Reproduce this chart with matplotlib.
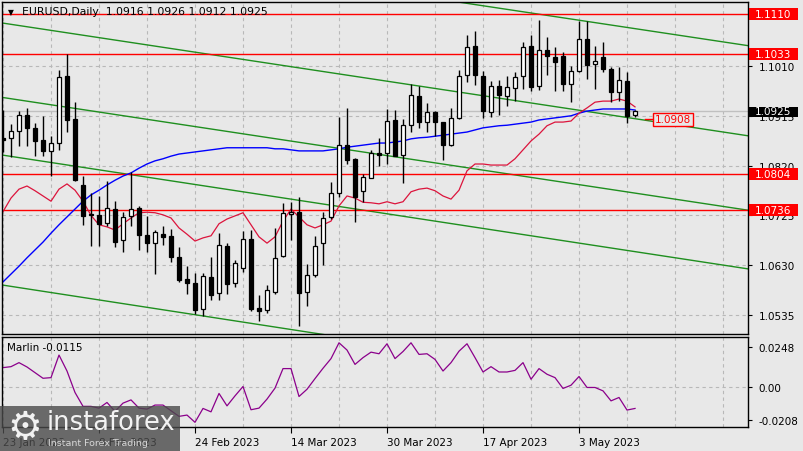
import matplotlib
matplotlib.use('Agg')
import matplotlib.pyplot as plt
from matplotlib.patches import Rectangle
import matplotlib.transforms as mtransforms

# ---------------- data ----------------
opens = [1.0873, 1.0873, 1.0886, 1.0917, 1.0892, 1.0869, 1.0848, 1.0863, 1.0991, 1.0909,
         1.0783, 1.0728, 1.0726, 1.0710, 1.0737, 1.0678, 1.0724, 1.0739, 1.0688, 1.0672,
         1.0689, 1.0686, 1.0646, 1.0604, 1.0596, 1.0546, 1.0607, 1.0577, 1.0667, 1.0596,
         1.0625, 1.0680, 1.0548, 1.0544, 1.0579, 1.0647, 1.0728, 1.0731, 1.0579, 1.0611,
         1.0672, 1.0722, 1.0768, 1.0859, 1.0833, 1.0772, 1.0796, 1.0844, 1.0844, 1.0907,
         1.0840, 1.0897, 1.0953, 1.0903, 1.0922, 1.0903, 1.0859, 1.0911, 1.0993, 1.1048,
         1.0991, 1.0922, 1.0972, 1.0953, 1.0968, 1.0991, 1.1048, 1.0972, 1.1041, 1.1027,
         1.1029, 1.0976, 1.1000, 1.1062, 1.1014, 1.1027, 1.1004, 1.0960, 1.0981, 1.0916]
highs = [1.0926, 1.0899, 1.0924, 1.0930, 1.0901, 1.0915, 1.0876, 1.1002, 1.1033, 1.0941,
         1.0800, 1.0768, 1.0762, 1.0791, 1.0752, 1.0731, 1.0808, 1.0743, 1.0724, 1.0697,
         1.0705, 1.0699, 1.0665, 1.0628, 1.0615, 1.0615, 1.0646, 1.0691, 1.0672, 1.0640,
         1.0695, 1.0697, 1.0573, 1.0592, 1.0701, 1.0749, 1.0751, 1.0760, 1.0632, 1.0686,
         1.0731, 1.0789, 1.0913, 1.0930, 1.0834, 1.0804, 1.0850, 1.0873, 1.0928, 1.0926,
         1.0909, 1.0976, 1.0972, 1.0939, 1.0924, 1.0903, 1.0930, 1.1002, 1.1069, 1.1077,
         1.1000, 1.0981, 1.0983, 1.0991, 1.0999, 1.1056, 1.1069, 1.1098, 1.1065, 1.1046,
         1.1037, 1.1010, 1.1096, 1.1096, 1.1048, 1.1056, 1.1008, 1.1008, 1.0999, 1.0926]
lows = [1.0846, 1.0836, 1.0857, 1.0857, 1.0838, 1.0838, 1.0800, 1.0850, 1.0884, 1.0791,
        1.0707, 1.0667, 1.0667, 1.0705, 1.0665, 1.0655, 1.0705, 1.0659, 1.0655, 1.0613,
        1.0668, 1.0636, 1.0598, 1.0575, 1.0537, 1.0533, 1.0564, 1.0564, 1.0575, 1.0588,
        1.0617, 1.0543, 1.0523, 1.0539, 1.0575, 1.0646, 1.0678, 1.0514, 1.0552, 1.0607,
        1.0630, 1.0718, 1.0760, 1.0823, 1.0712, 1.0751, 1.0796, 1.0819, 1.0823, 1.0838,
        1.0787, 1.0884, 1.0892, 1.0884, 1.0876, 1.0831, 1.0857, 1.0909, 1.0980, 1.0974,
        1.0911, 1.0913, 1.0917, 1.0934, 1.0943, 1.0966, 1.0962, 1.0964, 1.0993, 1.0962,
        1.0962, 1.0941, 1.0999, 1.0985, 1.0966, 1.0999, 1.0941, 1.0943, 1.0901, 1.0912]
closes = [1.0869, 1.0886, 1.0917, 1.0892, 1.0867, 1.0848, 1.0863, 1.0989, 1.0907, 1.0792,
          1.0724, 1.0726, 1.0709, 1.0739, 1.0674, 1.0722, 1.0737, 1.0688, 1.0672, 1.0693,
          1.0684, 1.0646, 1.0602, 1.0596, 1.0544, 1.0609, 1.0573, 1.0668, 1.0594, 1.0634,
          1.0680, 1.0546, 1.0543, 1.0583, 1.0644, 1.0730, 1.0731, 1.0577, 1.0611, 1.0667,
          1.0720, 1.0768, 1.0859, 1.0831, 1.0760, 1.0798, 1.0844, 1.0840, 1.0905, 1.0838,
          1.0897, 1.0955, 1.0903, 1.0922, 1.0903, 1.0859, 1.0911, 1.0991, 1.1046, 1.0993,
          1.0924, 1.0972, 1.0955, 1.0970, 1.0989, 1.1046, 1.0970, 1.1041, 1.1029, 1.1018,
          1.0976, 1.1000, 1.1062, 1.1012, 1.1020, 1.1004, 1.0960, 1.0983, 1.0915, 1.0925]

ma_fast = [1.0732, 1.0758, 1.0775, 1.0781, 1.0772, 1.0762, 1.0752, 1.0775, 1.0785, 1.0773,
           1.0752, 1.0725, 1.0707, 1.0703, 1.0697, 1.0709, 1.0720, 1.0730, 1.0731, 1.0730,
           1.0726, 1.0720, 1.0701, 1.0689, 1.0676, 1.0682, 1.0686, 1.0709, 1.0718, 1.0724,
           1.0730, 1.0707, 1.0684, 1.0672, 1.0684, 1.0714, 1.0737, 1.0722, 1.0707, 1.0701,
           1.0707, 1.0714, 1.0743, 1.0762, 1.0758, 1.0750, 1.0749, 1.0747, 1.0751, 1.0747,
           1.0751, 1.0770, 1.0775, 1.0777, 1.0772, 1.0762, 1.0756, 1.0773, 1.0810, 1.0823,
           1.0823, 1.0821, 1.0821, 1.0821, 1.0833, 1.0850, 1.0867, 1.0880, 1.0896, 1.0903,
           1.0903, 1.0905, 1.0920, 1.0930, 1.0941, 1.0943, 1.0943, 1.0947, 1.0943, 1.0932]
ma_slow = [1.0598, 1.0613, 1.0628, 1.0644, 1.0659, 1.0674, 1.0691, 1.0707, 1.0722, 1.0737,
           1.0752, 1.0764, 1.0773, 1.0783, 1.0792, 1.0800, 1.0806, 1.0815, 1.0823, 1.0829,
           1.0833, 1.0838, 1.0842, 1.0844, 1.0846, 1.0848, 1.0850, 1.0852, 1.0854, 1.0854,
           1.0854, 1.0854, 1.0854, 1.0854, 1.0852, 1.0852, 1.0850, 1.0848, 1.0848, 1.0848,
           1.0848, 1.0850, 1.0852, 1.0855, 1.0857, 1.0859, 1.0861, 1.0863, 1.0863, 1.0865,
           1.0867, 1.0871, 1.0873, 1.0874, 1.0876, 1.0878, 1.0880, 1.0882, 1.0884, 1.0888,
           1.0892, 1.0894, 1.0896, 1.0897, 1.0899, 1.0901, 1.0903, 1.0907, 1.0909, 1.0911,
           1.0913, 1.0915, 1.0920, 1.0924, 1.0926, 1.0928, 1.0928, 1.0928, 1.0928, 1.0926]

marlin = [0.0117, 0.0123, 0.0148, 0.0121, 0.0086, 0.0051, 0.0055, 0.0195, 0.0096, -0.0037,
          -0.0123, -0.0123, -0.0134, -0.0099, -0.0154, -0.0103, -0.0083, -0.0134, -0.0140, -0.0115,
          -0.0115, -0.0150, -0.0185, -0.0177, -0.0222, -0.0136, -0.0157, -0.0043, -0.0120, -0.0058,
          0.0000, -0.0144, -0.0134, -0.0078, -0.0010, 0.0111, 0.0111, -0.0062, -0.0017, 0.0049,
          0.0113, 0.0173, 0.0271, 0.0226, 0.0137, 0.0179, 0.0213, 0.0203, 0.0265, 0.0173,
          0.0217, 0.0271, 0.0199, 0.0203, 0.0168, 0.0096, 0.0148, 0.0219, 0.0265, 0.0179,
          0.0090, 0.0123, 0.0090, 0.0090, 0.0100, 0.0148, 0.0045, 0.0111, 0.0076, 0.0055,
          -0.0012, 0.0008, 0.0062, -0.0006, -0.0006, -0.0027, -0.0089, -0.0068, -0.0146, -0.0136]

date_labels = ['23 Jan 2023', '8 Feb 2023', '24 Feb 2023', '14 Mar 2023',
               '30 Mar 2023', '17 Apr 2023', '3 May 2023']
date_label_bars = [0, 12, 24, 36, 48, 60, 72]
grid_bars = list(range(0, 94, 6))

level_lines = [1.1110, 1.1033, 1.0804, 1.0736]
price_ticks = [1.1010, 1.0915, 1.0820, 1.0725, 1.0630, 1.0535]
marlin_ticks = [0.0248, 0.0, -0.0208]
last_price = 1.0925
label_price = 1.0908

# channel lines: (bar0, price0, bar1, price1)
channel_lines = [(-0.0625, 1.1263, 93.06, 1.1049),
                 (-0.0625, 1.1092, 93.06, 1.0877),
                 (-0.0625, 1.0950, 93.06, 1.0735),
                 (-0.0625, 1.0840, 93.06, 1.0623),
                 (-0.0625, 1.0592, 93.06, 1.0373)]

# ---------------- style ----------------
W, H = 804, 452
BG = '#e8e8e8'
GRID = '#b8b8b8'
FONT = 'DejaVu Sans'
FS = 7.5
plt.rcParams['font.family'] = FONT

fig = plt.figure(figsize=(W / 100, H / 100), dpi=100, facecolor=BG)

def fx(px):
    return px / W

def fy(py):
    return 1 - py / H

L, R = 2.5, 747.5
ax = fig.add_axes([fx(L), fy(335), fx(R - L), (335 - 2.5) / H], facecolor=BG)
ax2 = fig.add_axes([fx(L), fy(428), fx(R - L), (428 - 337.5) / H], facecolor=BG)

xmin, xmax = -0.0625, 93.06
ax.set_xlim(xmin, xmax)
ax.set_ylim(1.04986, 1.11331)
ax2.set_xlim(xmin, xmax)
ax2.set_ylim(-0.0251, 0.0310)

for a in (ax, ax2):
    for s in a.spines.values():
        s.set_color('black')
        s.set_linewidth(1.0)
    a.set_axisbelow(True)

# grid
for b in grid_bars:
    ax.axvline(b, color=GRID, lw=0.8, ls=(0, (3, 3)), zorder=0.5)
    ax2.axvline(b, color=GRID, lw=0.8, ls=(0, (3, 3)), zorder=0.5)
for p in price_ticks:
    ax.axhline(p, color=GRID, lw=0.8, ls=(0, (3, 3)), zorder=0.5)
ax2.axhline(0.0, color=GRID, lw=0.8, ls=(0, (3, 3)), zorder=0.5)

# last price line
ax.axhline(last_price, color='#c0c0c0', lw=1.0, zorder=0.8)

# channel lines
for (b0, p0, b1, p1) in channel_lines:
    ax.plot([b0, b1], [p0, p1], color='#1f8f1f', lw=1.0, zorder=1)

# horizontal levels
for lv in level_lines:
    ax.axhline(lv, color='#ff0000', lw=1.0, zorder=1.2)

# moving averages
n = len(closes)
xs = list(range(n))
ax.plot(xs, ma_slow, color='#0000ff', lw=1.0, zorder=2)
ax.plot(xs, ma_fast, color='#dc143c', lw=0.9, zorder=2)

# candles
bw = 0.6
for i in range(n):
    o, h, l, c = opens[i], highs[i], lows[i], closes[i]
    ax.vlines(i, l, h, color='black', lw=1.0, zorder=3)
    bottom = min(o, c)
    height = max(abs(c - o), 0.00005)
    fc = 'white' if c >= o else 'black'
    ax.add_patch(Rectangle((i - bw / 2, bottom), bw, height, facecolor=fc,
                           edgecolor='black', lw=0.9, zorder=4))

# 1.0908 price label
ax.plot([80.25, 81.4], [label_price, label_price], color='red', lw=1.0, zorder=5)
ax.text(81.45, label_price, '1.0908', color='red', fontsize=FS, va='center', ha='left',
        zorder=6, bbox=dict(boxstyle='square,pad=0.18', fc=BG, ec='red', lw=1.0))

# y ticks main
ax.yaxis.tick_right()
ax.set_yticks(price_ticks)
ax.set_yticklabels(['%.4f' % p for p in price_ticks], fontsize=FS)
ax.tick_params(axis='y', direction='out', length=3, pad=5, colors='black')
ax.set_xticks([])

# axis boxes
bt = mtransforms.blended_transform_factory(ax.transAxes, ax.transData)
bw_ax = 49 / (R - L)
bx = (749 - L) / (R - L)
bh = 12 * (1.11331 - 1.04986) / 332.5
for lv in level_lines:
    ax.add_patch(Rectangle((bx, lv - bh / 2), bw_ax, bh, transform=bt, clip_on=False,
                           facecolor='#ff0000', edgecolor='none', zorder=5))
    ax.text(bx + 6 / (R - L), lv, '%.4f' % lv, transform=bt, color='white', fontsize=FS,
            va='center', ha='left', zorder=6, clip_on=False)
ax.add_patch(Rectangle((bx, last_price - bh / 2 - 0.00005), bw_ax, bh * 0.85, transform=bt,
                       clip_on=False, facecolor='black', edgecolor='none', zorder=5))
ax.text(bx + 6 / (R - L), last_price - 0.0001, '%.4f' % last_price, transform=bt, color='white',
        fontsize=FS, va='center', ha='left', zorder=6, clip_on=False)

# indicator
ax2.plot(xs, marlin, color='#8b008b', lw=0.9)
ax2.yaxis.tick_right()
ax2.set_yticks(marlin_ticks)
ax2.set_yticklabels(['0.0248', '0.00', '-0.0208'], fontsize=FS)
ax2.tick_params(axis='y', direction='out', length=3, pad=5)
ax2.set_xticks(date_label_bars)
ax2.set_xticklabels(date_labels, fontsize=FS)
for t in ax2.get_xticklabels():
    t.set_horizontalalignment('left')
ax2.tick_params(axis='x', direction='out', length=4, pad=3)
ax2.text(fx(7) / fx(R - L) - fx(L) / fx(R - L), 0.88, 'Marlin -0.0115', transform=ax2.transAxes,
         fontsize=FS, va='center', ha='left')

# title
fig.text(fx(8), fy(12.5), '\u25bc', fontsize=5.5, va='center', ha='left', color='black')
fig.text(fx(22), fy(12), 'EURUSD,Daily  1.0916 1.0926 1.0912 1.0925', fontsize=7.8,
         va='center', ha='left', color='black')

# watermark
fig.add_artist(Rectangle((0, 0), fx(180), 45 / H, transform=fig.transFigure,
                         facecolor='#4a4a4a', edgecolor='none', alpha=0.8, zorder=10))
fig.text(fx(25), fy(428), '\u2699', fontsize=28, color='#f2f2f2', va='center', ha='center',
         zorder=11, family=['DejaVu Sans'])
fig.text(fx(47), fy(423), 'instaforex', fontsize=18.5, color='#f2f2f2', va='center', ha='left',
         zorder=11)
fig.text(fx(48), fy(444), 'Instant Forex Trading', fontsize=6.8, color='#d8d8d8', va='center',
         ha='left', zorder=11)

fig.savefig('out.png', dpi=100, facecolor=BG)
